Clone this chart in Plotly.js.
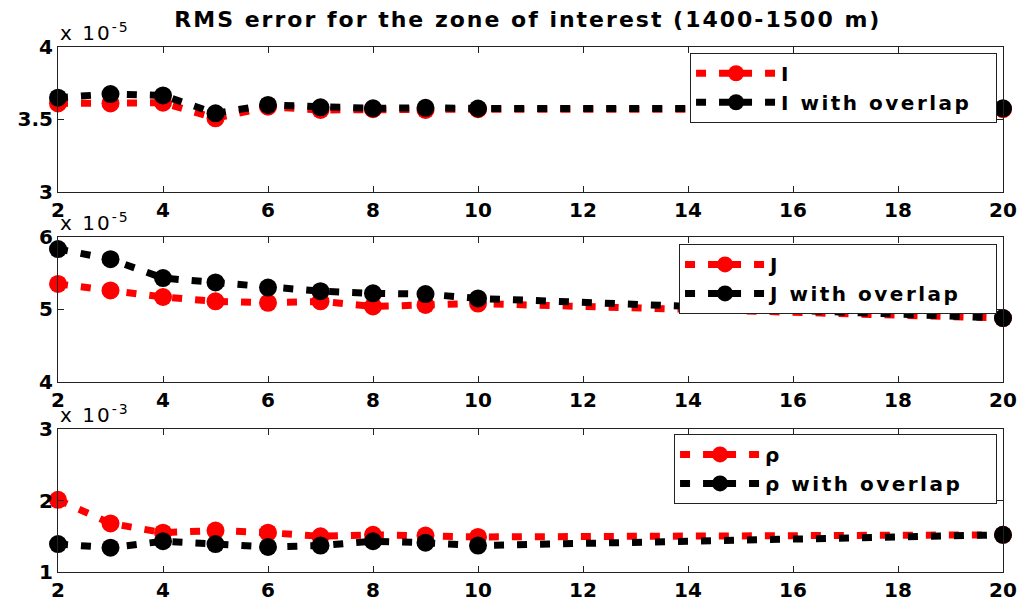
<!DOCTYPE html>
<html>
<head>
<meta charset="utf-8">
<script src="https://cdn.plot.ly/plotly-3.0.1.min.js"></script>
<style>
  html, body { margin: 0; padding: 0; background: #fff; }
  #chart { width: 1023px; height: 603px; }
  /* wide, spaced lettering for the title, legend entries and scale labels */
  .gtitle, .annotation-text { letter-spacing: 2px; }
  .legendtext, .legend2text, .legend3text { letter-spacing: 2.5px; }
</style>
</head>
<body>
<div id="chart"></div>
<script>
// Number of windows (x axis shared by all three panels)
const nWin = [2, 3, 4, 5, 6, 7, 8, 9, 10, 20];

// RMS error of I, in units of 1e-5
const rmsI        = [3.61, 3.61, 3.615, 3.507, 3.587, 3.565, 3.57, 3.565, 3.57, 3.57];
const rmsIOverlap = [3.65, 3.675, 3.665, 3.542, 3.60, 3.583, 3.576, 3.58, 3.575, 3.576];

// RMS error of J, in units of 1e-5
const rmsJ        = [5.35, 5.26, 5.17, 5.11, 5.09, 5.11, 5.04, 5.06, 5.08, 4.88];
const rmsJOverlap = [5.83, 5.69, 5.43, 5.37, 5.30, 5.25, 5.22, 5.21, 5.15, 4.88];

// RMS error of rho, in units of 1e-3
const rmsRho        = [2.01, 1.68, 1.55, 1.58, 1.55, 1.50, 1.52, 1.51, 1.49, 1.52];
const rmsRhoOverlap = [1.39, 1.34, 1.43, 1.39, 1.35, 1.37, 1.43, 1.41, 1.37, 1.52];

const xTicks = [2, 4, 6, 8, 10, 12, 14, 16, 18, 20];
const seriesNames = [
  ['I', 'I with overlap'],
  ['J', 'J with overlap'],
  ['\u03c1', '\u03c1 with overlap']
];
const scaleExp = ['-5', '-5', '-3'];
const yRanges = [[3, 4], [4, 6], [1, 3]];
const yTicks = [[3, 3.5, 4], [4, 5, 6], [1, 2, 3]];
const yTickText = [['3', '3.5', '4'], ['4', '5', '6'], ['1', '2', '3']];

const FONT = 'DejaVu Sans, Arial, sans-serif';
const panels = [[rmsI, rmsIOverlap], [rmsJ, rmsJOverlap], [rmsRho, rmsRhoOverlap]];
const colors = ['#ff0000', '#000000'];
const domains = [[0.7244, 1], [0.3619, 0.6387], [0, 0.2724]];
const legendTops = [0.989, 0.625, 0.263];
const legendRight = 0.9937;
// padding after the legend labels so the boxes keep their width
const legendPads = ['\u00a0\u00a0', '\u00a0\u00a0\u00a0', '\u00a0\u00a0\u00a0'];

const traces = [];
panels.forEach((pair, p) => {
  pair.forEach((vals, s) => {
    traces.push({
      x: nWin,
      y: vals,
      type: 'scatter',
      mode: 'lines+markers',
      name: '<b>' + seriesNames[p][s] + legendPads[p] + '</b>',
      xaxis: p === 0 ? 'x' : 'x' + (p + 1),
      yaxis: p === 0 ? 'y' : 'y' + (p + 1),
      legend: p === 0 ? 'legend' : 'legend' + (p + 1),
      line: { color: colors[s], width: 7, dash: '10px,13px' },
      marker: { color: colors[s], size: 18, symbol: 'circle' },
      cliponaxis: false
    });
  });
});

const layout = {
  width: 1023,
  height: 603,
  paper_bgcolor: '#ffffff',
  plot_bgcolor: '#ffffff',
  margin: { l: 58, r: 20, t: 47, b: 31 },
  font: { family: FONT, size: 20, color: '#000' },
  title: {
    text: '<b>RMS error for the zone of interest (1400-1500 m)</b>',
    font: { family: FONT, size: 22, color: '#000' },
    x: 0.516, xanchor: 'center', y: 0.968, yanchor: 'middle'
  },
  showlegend: true,
  annotations: []
};

for (let p = 0; p < 3; p++) {
  const xa = p === 0 ? 'xaxis' : 'xaxis' + (p + 1);
  const ya = p === 0 ? 'yaxis' : 'yaxis' + (p + 1);
  const yRef = p === 0 ? 'y' : 'y' + (p + 1);
  layout[xa] = {
    domain: [0, 1],
    anchor: yRef,
    range: [2, 20],
    tickvals: xTicks,
    ticktext: xTicks.map(v => '<b>' + v + '</b>'),
    ticks: 'inside', ticklen: 6, tickcolor: '#222', tickwidth: 1,
    showline: true, linecolor: '#222', linewidth: 1, mirror: 'ticks',
    showgrid: false, zeroline: false,
    tickfont: { family: FONT, size: 20, color: '#000' }
  };
  layout[ya] = {
    domain: domains[p],
    anchor: p === 0 ? 'x' : 'x' + (p + 1),
    range: yRanges[p],
    tickvals: yTicks[p],
    ticktext: yTickText[p].map(v => '<b>' + v + '</b>'),
    ticks: 'inside', ticklen: 6, tickcolor: '#222', tickwidth: 1,
    showline: true, linecolor: '#222', linewidth: 1, mirror: 'ticks',
    showgrid: false, zeroline: false,
    tickfont: { family: FONT, size: 20, color: '#000' }
  };
  const lg = p === 0 ? 'legend' : 'legend' + (p + 1);
  layout[lg] = {
    x: legendRight, xanchor: 'right',
    y: legendTops[p], yanchor: 'top',
    bgcolor: '#ffffff', bordercolor: '#222', borderwidth: 1,
    itemwidth: 80,
    font: { family: FONT, size: 20, color: '#000' }
  };
  layout.annotations.push({
    xref: 'paper', yref: 'paper',
    x: 0, y: domains[p][1], xanchor: 'left', yanchor: 'bottom',
    text: 'x 10<sup>' + scaleExp[p] + '</sup>',
    showarrow: false,
    font: { family: FONT, size: 20, color: '#000' }
  });
}

Plotly.newPlot('chart', traces, layout, { displayModeBar: false, staticPlot: true });
</script>
</body>
</html>
